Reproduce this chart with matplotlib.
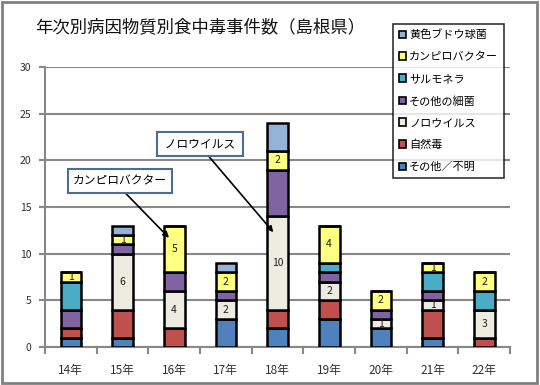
import matplotlib
matplotlib.use("Agg")
import matplotlib.pyplot as plt
from matplotlib.patches import Rectangle, Patch
import numpy as np

plt.rcParams['font.family'] = ['Noto Sans CJK JP', 'DejaVu Sans']

years = ["14年", "15年", "16年", "17年", "18年", "19年", "20年", "21年", "22年"]
series_names = ["その他／不明", "自然毒", "ノロウイルス", "その他の細菌", "サルモネラ", "カンピロバクター", "黄色ブドウ球菌"]
other_unknown = [1, 1, 0, 3, 2, 3, 2, 1, 0]
natural_toxin = [1, 3, 2, 0, 2, 2, 0, 3, 1]
norovirus     = [0, 6, 4, 2, 10, 2, 1, 1, 3]
other_bacteria = [2, 1, 2, 1, 5, 1, 1, 1, 0]
salmonella    = [3, 0, 0, 0, 0, 1, 0, 2, 2]
campylobacter = [1, 1, 5, 2, 2, 4, 2, 1, 2]
staph         = [0, 1, 0, 1, 3, 0, 0, 0, 0]
colors = ["#4F81BD", "#C0504D", "#EEECE1", "#8064A2", "#4BACC6", "#FFFF80", "#95B3D7"]
labelled = ["ノロウイルス", "カンピロバクター"]

data = [other_unknown, natural_toxin, norovirus, other_bacteria, salmonella, campylobacter, staph]

fig = plt.figure(figsize=(5.4, 3.85), dpi=100)
W, H = 540, 385
ax = fig.add_axes([45 / W, (H - 347) / H, 465 / W, 280 / H])

x = np.arange(len(years))
bottom = np.zeros(len(years))
handles = []
for name, vals, c in zip(series_names, data, colors):
    vals = np.array(vals, dtype=float)
    ax.bar(x, vals, bottom=bottom, width=0.4, color=c, edgecolor="black",
           linewidth=1.8, zorder=3)
    if name in labelled:
        for xi, v, b in zip(x, vals, bottom):
            if v > 0:
                ax.text(xi, b + v / 2, f"{int(v)}", ha="center", va="center",
                        fontsize=7.5, color="#202020", zorder=4)
    bottom += vals
    handles.append(Patch(facecolor=c, edgecolor="black", linewidth=1.2, label=name))

ax.set_xlim(-0.5, len(years) - 0.5)
ax.set_ylim(0, 30)
ax.set_yticks(range(0, 31, 5))
ax.set_xticks(x)
ax.set_xticklabels(years, fontsize=8.5, color="#303030")
ax.set_xticks(np.arange(-0.5, len(years), 1), minor=True)
ax.tick_params(axis="x", which="major", length=0, pad=12)
ax.tick_params(axis="x", which="minor", length=5, width=1.5, color="#888888", direction="out")
ax.tick_params(axis="y", length=4, width=1.5, color="#888888", labelsize=7.5,
               labelcolor="#303030", pad=6)
ax.grid(axis="y", color="#888888", linewidth=1.5, zorder=0)
ax.set_axisbelow(True)
for s in ["top", "right"]:
    ax.spines[s].set_visible(False)
for s in ["left", "bottom"]:
    ax.spines[s].set_color("#888888")
    ax.spines[s].set_linewidth(1.5)

# title
fig.text(35 / W, 1 - 27 / H, "年次別病因物質別食中毒事件数（島根県）", fontsize=12.5,
         ha="left", va="center", color="#101010")

# legend
leg = fig.legend(handles=handles[::-1], loc="upper left",
                 bbox_to_anchor=(393 / W, 1 - 24 / H), bbox_transform=fig.transFigure,
                 borderaxespad=0, frameon=True, fancybox=False, fontsize=8,
                 handlelength=0.7, handleheight=0.7, handletextpad=0.25,
                 labelspacing=1.05, borderpad=0.5)
leg.get_frame().set_edgecolor("black")
leg.get_frame().set_linewidth(1.2)

# annotations
box = dict(boxstyle="square,pad=0.45", fc="white", ec="#4A6E96", lw=1.5)
ax.annotate(" ノロウイルス ", xy=(4 - 0.08, 12.3), xycoords="data",
            xytext=(200 / W, 1 - 144 / H), textcoords="figure fraction",
            fontsize=8.5, ha="center", va="center", bbox=box,
            arrowprops=dict(arrowstyle="-|>", color="black", lw=1.2,
                            relpos=(0.55, 0.0), shrinkA=0, shrinkB=0), zorder=6)
ax.annotate("カンピロバクター", xy=(2 - 0.1, 11.7), xycoords="data",
            xytext=(120 / W, 1 - 181 / H), textcoords="figure fraction",
            fontsize=8.5, ha="center", va="center", bbox=box,
            arrowprops=dict(arrowstyle="-|>", color="black", lw=1.2,
                            relpos=(0.5, 0.0), shrinkA=0, shrinkB=0), zorder=6)

# outer border
fig.patches.append(Rectangle((2 / W, 2 / H), 535 / W, 381 / H, transform=fig.transFigure,
                             fill=False, edgecolor="#808080", linewidth=2))

fig.savefig("out.png", dpi=100)
